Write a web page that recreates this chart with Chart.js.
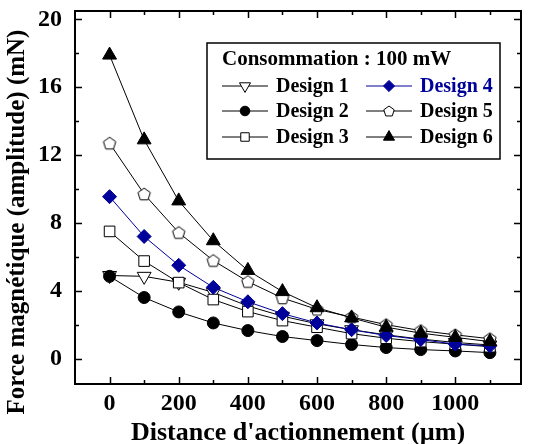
<!DOCTYPE html>
<html>
<head>
<meta charset="utf-8">
<script src="https://cdn.jsdelivr.net/npm/chart.js@4/dist/chart.umd.min.js"></script>
<style>
  html, body { margin: 0; padding: 0; background: #fff; }
  #wrap { width: 539px; height: 444px; }
</style>
</head>
<body>
<div id="wrap"><canvas id="forceChart" width="539" height="444"></canvas></div>
<script>
// ---------------- DATA ----------------
const distances = [0, 100, 200, 300, 400, 500, 600, 700, 800, 900, 1000, 1100];
const design1 = [4.9, 4.85, 4.5, 3.9, 3.1, 2.5, 2.05, 1.7, 1.4, 1.15, 0.95, 0.8];
const design2 = [4.85, 3.6, 2.75, 2.1, 1.65, 1.3, 1.06, 0.83, 0.65, 0.53, 0.45, 0.35];
const design3 = [7.5, 5.75, 4.48, 3.48, 2.77, 2.24, 1.85, 1.47, 1.2, 1.0, 0.85, 0.7];
const design4 = [9.55, 7.2, 5.5, 4.2, 3.35, 2.65, 2.1, 1.7, 1.36, 1.12, 0.85, 0.75];
const design5 = [12.7, 9.7, 7.43, 5.78, 4.54, 3.57, 2.9, 2.45, 2.0, 1.65, 1.4, 1.17];
const design6 = [17.9, 12.9, 9.3, 6.95, 5.2, 3.95, 3.0, 2.4, 1.85, 1.5, 1.25, 1.0];

const xMajorTicks = [0, 200, 400, 600, 800, 1000];
const xMinorTicks = [100, 300, 500, 700, 900, 1100];
const yMajorTicks = [0, 4, 8, 12, 16, 20];
const yMinorTicks = [2, 6, 10, 14, 18];

const legendTitle = "Consommation : 100 mW";
const yTitle = "Force magnétique (amplitude) (mN)";

const FONT = "'Liberation Serif', 'Times New Roman', serif";
const BLUE = "#00009a";

// ---------------- PENTAGON MARKER ----------------
function makePentagon(r) {
    const c = document.createElement("canvas");
    const s = Math.ceil(r * 2 + 3);
    c.width = s; c.height = s;
    const g = c.getContext("2d");
    g.beginPath();
    for (let i = 0; i < 5; i++) {
        const a = -Math.PI / 2 + i * 2 * Math.PI / 5;
        const px = s / 2 + r * Math.cos(a);
        const py = s / 2 + 0.5 + r * Math.sin(a);
        if (i === 0) g.moveTo(px, py); else g.lineTo(px, py);
    }
    g.closePath();
    g.fillStyle = "#fff";
    g.fill();
    g.lineWidth = 1;
    g.strokeStyle = "#000";
    g.stroke();
    return c;
}
const pentagon = makePentagon(6.5);
const pentagonSmall = makePentagon(5.5);

function series(label, values, style) {
    return Object.assign({
        label: label,
        data: values.map((v, i) => ({ x: distances[i], y: v })),
        borderColor: "#000",
        borderWidth: 1,
        pointBorderColor: "#000",
        pointBorderWidth: 1,
        tension: 0,
        fill: false
    }, style);
}

const datasets = [
    series("Design 1", design1, { pointStyle: "triangle", rotation: 180, pointRadius: 8, pointBackgroundColor: "#fff" }),
    series("Design 2", design2, { pointStyle: "circle", pointRadius: 6, pointBackgroundColor: "#000" }),
    series("Design 3", design3, { pointStyle: "rect", pointRadius: 7.5, pointBackgroundColor: "#fff" }),
    series("Design 4", design4, { pointStyle: "rectRot", pointRadius: 7, pointBackgroundColor: BLUE, pointBorderColor: BLUE, borderColor: BLUE }),
    series("Design 5", design5, { pointStyle: pentagon, pointRadius: 7 }),
    series("Design 6", design6, { pointStyle: "triangle", pointRadius: 8, pointBackgroundColor: "#000" })
];
// later designs drawn on top
datasets.forEach((d, i) => { d.order = datasets.length - i; });

// ---------------- FRAME + INWARD TICKS + Y TITLE ----------------
const frameTicks = {
    id: "frameTicks",
    afterDatasetsDraw(chart) {
        const { ctx, chartArea: a, scales: { x, y } } = chart;
        ctx.save();
        ctx.strokeStyle = "#000";
        ctx.lineWidth = 1.5;
        ctx.beginPath();
        xMajorTicks.concat(xMinorTicks).forEach(v => {
            const len = xMajorTicks.includes(v) ? 7 : 4;
            const px = Math.round(x.getPixelForValue(v)) + 0.5;
            ctx.moveTo(px, a.bottom); ctx.lineTo(px, a.bottom - len);
            ctx.moveTo(px, a.top); ctx.lineTo(px, a.top + len);
        });
        yMajorTicks.concat(yMinorTicks).forEach(v => {
            const len = yMajorTicks.includes(v) ? 7 : 4;
            const py = Math.round(y.getPixelForValue(v)) + 0.5;
            ctx.moveTo(a.left, py); ctx.lineTo(a.left + len, py);
            ctx.moveTo(a.right, py); ctx.lineTo(a.right - len, py);
        });
        ctx.stroke();
        ctx.lineWidth = 2;
        ctx.strokeRect(a.left, a.top, a.right - a.left, a.bottom - a.top);

        // y axis title, sits a little below the plot centre like the original
        ctx.translate(18, 222);
        ctx.rotate(-Math.PI / 2);
        ctx.font = "bold 25px " + FONT;
        ctx.fillStyle = "#000";
        ctx.textAlign = "center";
        ctx.textBaseline = "middle";
        ctx.fillText(yTitle, 0, 0);
        ctx.restore();
    }
};

// ---------------- CUSTOM LEGEND BOX ----------------
const legendBox = {
    id: "legendBox",
    afterDraw(chart) {
        const ctx = chart.ctx;
        const box = { x: 207, y: 43, w: 293, h: 116 };
        ctx.save();
        ctx.fillStyle = "#fff";
        ctx.fillRect(box.x, box.y, box.w, box.h);
        ctx.strokeStyle = "#000";
        ctx.lineWidth = 1.5;
        ctx.strokeRect(box.x, box.y, box.w, box.h);

        ctx.font = "bold 21px " + FONT;
        ctx.textBaseline = "middle";
        ctx.fillStyle = "#000";
        ctx.fillText(legendTitle, 222, 60);

        ctx.font = "bold 20px " + FONT;
        const cols = [222, 366];
        const rows = [86, 111, 137];
        chart.data.datasets.forEach((ds, i) => {
            const cx = cols[Math.floor(i / 3)];
            const cy = rows[i % 3];
            ctx.strokeStyle = ds.borderColor;
            ctx.lineWidth = 1;
            ctx.beginPath();
            ctx.moveTo(cx, cy); ctx.lineTo(cx + 46, cy);
            ctx.stroke();
            ctx.fillStyle = ds.pointBackgroundColor || "#fff";
            ctx.strokeStyle = ds.pointBorderColor;
            Chart.helpers.drawPoint(ctx, {
                pointStyle: ds.pointStyle === pentagon ? pentagonSmall : ds.pointStyle,
                radius: ds.pointRadius * 0.8,
                rotation: ds.rotation || 0,
                borderWidth: 1
            }, cx + 23, cy);
            ctx.fillStyle = ds.label === "Design 4" ? BLUE : "#000";
            ctx.fillText(ds.label, cx + 54, cy + 1);
        });
        ctx.restore();
    }
};

// ===================== FORCE vs DISTANCE (LINE) =====================
new Chart(document.getElementById("forceChart"), {
    type: "line",
    data: { datasets: datasets },
    options: {
        responsive: false,
        animation: false,
        events: [],
        layout: { padding: { left: 0, right: 18, top: 11, bottom: 0 } },
        plugins: { legend: { display: false }, tooltip: { enabled: false } },
        scales: {
            x: {
                type: "linear",
                min: -100,
                max: 1190,
                grid: { display: false },
                border: { display: false },
                afterBuildTicks: s => { s.ticks = xMajorTicks.map(v => ({ value: v })); },
                afterFit: s => { s.height = 60; s.paddingLeft = 0; s.paddingRight = 0; },
                ticks: {
                    padding: -3,
                    color: "#000",
                    maxRotation: 0,
                    callback: v => String(v),
                    font: { family: FONT, size: 24, weight: "bold" }
                },
                title: {
                    display: true,
                    text: "Distance d'actionnement (µm)",
                    color: "#000",
                    padding: { top: 0, bottom: -5 },
                    font: { family: FONT, size: 26, weight: "bold" }
                }
            },
            y: {
                min: -1.5,
                max: 20.5,
                grid: { display: false },
                border: { display: false },
                afterBuildTicks: s => { s.ticks = yMajorTicks.map(v => ({ value: v })); },
                afterFit: s => { s.width = 75; s.paddingTop = 0; s.paddingBottom = 0; },
                ticks: {
                    padding: 5,
                    color: "#000",
                    callback: v => String(v),
                    font: { family: FONT, size: 24, weight: "bold" }
                }
            }
        }
    },
    plugins: [frameTicks, legendBox]
});
</script>
</body>
</html>
